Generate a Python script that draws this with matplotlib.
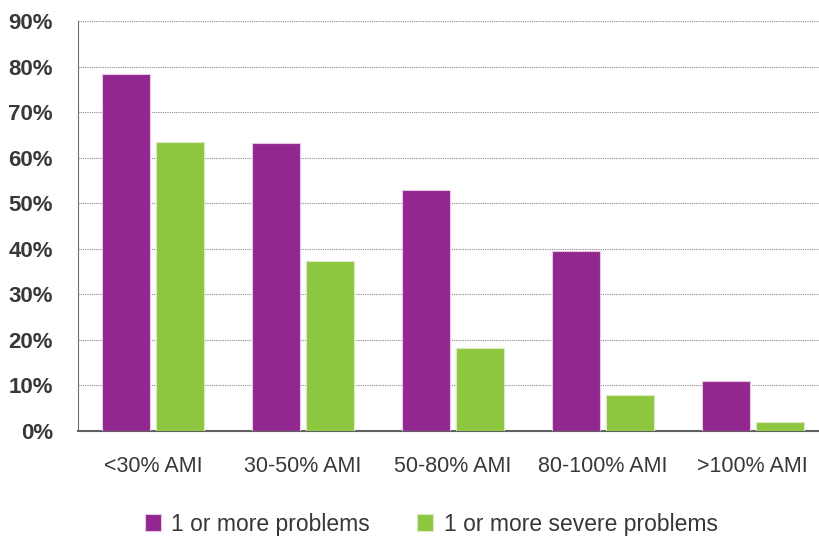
import numpy as np
import matplotlib.pyplot as plt
from matplotlib.ticker import FuncFormatter

categories = ['<30% AMI', '30-50% AMI', '50-80% AMI', '80-100% AMI', '>100% AMI']
any_problems = [78.4, 63.2, 52.9, 39.5, 11.0]
severe_problems = [63.4, 37.3, 18.2, 7.9, 2.0]

PURPLE = '#92278F'
GREEN = '#8DC63F'
TEXT = '#383838'

plt.rcParams['font.family'] = ['Liberation Sans', 'DejaVu Sans']

fig = plt.figure(figsize=(8.2, 5.39), dpi=100)
ax = fig.add_axes([78/820, 1 - 431/539, 742/820, 410/539])

x = np.arange(len(categories))
w = 0.32
ax.bar(x - 0.18, any_problems, w, color=PURPLE, edgecolor='#e6c8e4', linewidth=0.8,
       label='1 or more problems', zorder=3)
ax.bar(x + 0.18, severe_problems, w, color=GREEN, edgecolor='#d8ecc0', linewidth=0.8,
       label='1 or more severe problems', zorder=3)

ax.set_ylim(0, 90)
ax.set_xlim(-0.5, 4.45)
ax.set_yticks(np.arange(0, 91, 10))
ax.yaxis.set_major_formatter(FuncFormatter(lambda v, p: f'{v:.0f}%'))
ax.set_xticks(x)
ax.set_xticklabels(categories)

ax.grid(axis='y', linestyle=(0, (1, 1)), color='#8a8a8a', linewidth=0.8, zorder=0)
ax.spines['top'].set_visible(False)
ax.spines['right'].set_visible(False)
ax.spines['left'].set_color('#707070')
ax.spines['bottom'].set_color('#606060')
ax.spines['bottom'].set_linewidth(1.5)
ax.tick_params(axis='both', length=0)
ax.tick_params(axis='y', pad=18, labelsize=16, labelcolor=TEXT)
ax.tick_params(axis='x', pad=18, labelsize=15.5, labelcolor=TEXT)
for lbl in ax.get_yticklabels():
    lbl.set_fontweight('bold')

fig.legend(loc='center', bbox_to_anchor=(0.526, 1 - 524/539), ncol=2, frameon=False,
           fontsize=16.5, labelcolor=TEXT, handlelength=0.7, handleheight=0.7,
           handletextpad=0.45, columnspacing=2.05)

plt.savefig('out.png', dpi=100)
